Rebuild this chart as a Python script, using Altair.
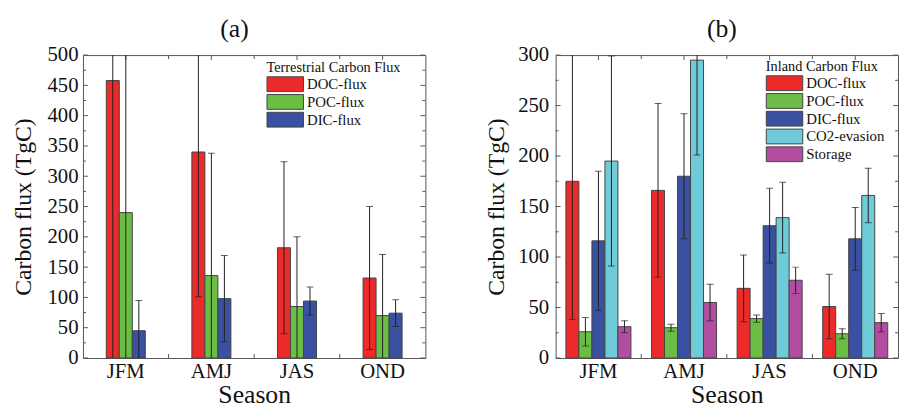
import altair as alt
import pandas as pd

seasons = ["JFM", "AMJ", "JAS", "OND"]

# Panel (a): Terrestrial Carbon Flux
terr_series = ["DOC-flux", "POC-flux", "DIC-flux"]
terr_doc = [458, 340, 182, 132]
terr_doc_err = [480, 239, 142, 118]
terr_poc = [240, 136, 85, 70]
terr_poc_err = [300, 202, 115, 101]
terr_dic = [45, 98, 94, 74]
terr_dic_err = [50, 71, 23, 22]
terr_colors = ["#EC2A2A", "#6CBD45", "#3A50A0"]

# Panel (b): Inland Carbon Flux
inl_series = ["DOC-flux", "POC-flux", "DIC-flux", "CO2-evasion", "Storage"]
inl_doc = [175, 166, 69, 51]
inl_doc_err = [137, 86, 33, 32]
inl_poc = [26, 30, 39, 24]
inl_poc_err = [14, 3.5, 3.5, 5]
inl_dic = [116, 180, 131, 118]
inl_dic_err = [69, 62, 37, 31]
inl_co2 = [195, 295, 139, 161]
inl_co2_err = [104, 94, 35, 27]
inl_sto = [31, 55, 77, 35]
inl_sto_err = [6, 18, 13, 9]
inl_colors = ["#EC2A2A", "#6CBD45", "#3A50A0", "#6FCBD7", "#B24E9F"]

ticks_a_major = list(range(0, 501, 50))
ticks_a_minor = list(range(25, 500, 50))
ticks_b_major = list(range(0, 301, 50))
ticks_b_minor = list(range(25, 300, 50))
season_bounds = ["AMJ", "JAS", "OND"]

FONT = "Times New Roman, Liberation Serif, serif"
FRAME = "#555555"
W, H = 347, 307


def long_df(series, values, errs):
    rows = []
    for s, vals, es in zip(series, values, errs):
        for season, v, e in zip(seasons, vals, es):
            rows.append({"season": season, "series": s, "value": v,
                         "low": v - e, "high": v + e})
    return pd.DataFrame(rows)


def panel(df, series, slot_domain, colors, ymax, major, minor, title, title_dx,
          legend_title, legend_x, legend_y, title_padding, label_padding, row_pad):
    xscale = alt.Scale(domain=seasons, paddingInner=0, paddingOuter=0)
    yscale = alt.Scale(domain=[0, ymax], nice=False, zero=True)
    oscale = alt.Scale(domain=slot_domain, paddingInner=0, paddingOuter=0.79)

    x_axis = alt.Axis(title="Season", labelAngle=0, ticks=False, tickSize=0,
                      domain=False, labelPadding=3, titlePadding=0,
                      labelFontSize=21, titleFontSize=26,
                      labelFont=FONT, titleFont=FONT)
    y_axis = alt.Axis(title="Carbon flux (TgC)", values=major, ticks=False,
                      tickSize=0, domain=False, grid=False,
                      labelPadding=label_padding, titlePadding=title_padding,
                      labelFontSize=21, titleFontSize=24,
                      labelFont=FONT, titleFont=FONT,
                      labelFlush=False, labelOverlap=False)

    base = alt.Chart(df)
    xo = alt.XOffset("series:N", scale=oscale)
    xs = alt.X("season:N", scale=xscale, sort=seasons, axis=x_axis)
    bars = base.mark_bar(stroke="#444444", strokeWidth=1).encode(
        x=xs,
        xOffset=xo,
        y=alt.Y("value:Q", scale=yscale, axis=y_axis),
        color=alt.Color("series:N", sort=series,
                        scale=alt.Scale(domain=series, range=colors),
                        legend=alt.Legend(
                            title=legend_title, orient="none",
                            legendX=legend_x, legendY=legend_y,
                            titleFont=FONT, titleFontSize=14.5, titleFontWeight="normal",
                            titleColor="#111111", titlePadding=1,
                            labelFont=FONT, labelFontSize=15, labelColor="#111111",
                            symbolType="M-1,-1L3.93,-1L3.93,1L-1,1Z", symbolSize=225,
                            symbolStrokeColor="#444444", symbolStrokeWidth=1,
                            labelOffset=25, rowPadding=row_pad, padding=0)),
    )
    err_line = base.mark_rule(color="#222222", strokeWidth=1, clip=True).encode(
        x=xs, xOffset=xo,
        y=alt.Y("low:Q", scale=yscale, axis=y_axis), y2="high:Q")
    cap_hi = base.mark_tick(color="#222222", thickness=1, size=7, clip=True).encode(
        x=xs, xOffset=xo, y=alt.Y("high:Q", scale=yscale, axis=y_axis))
    cap_lo = base.mark_tick(color="#222222", thickness=1, size=7, clip=True).encode(
        x=xs, xOffset=xo, y=alt.Y("low:Q", scale=yscale, axis=y_axis))

    maj = pd.DataFrame({"value": major})
    mnr = pd.DataFrame({"value": minor})
    yv = alt.Y("value:Q", scale=yscale, axis=y_axis)
    tick_layers = [
        alt.Chart(maj).mark_rule(color=FRAME).encode(y=yv, x=alt.value(0), x2=alt.value(5)),
        alt.Chart(mnr).mark_rule(color=FRAME).encode(y=yv, x=alt.value(0), x2=alt.value(3)),
        alt.Chart(maj).mark_rule(color=FRAME).encode(y=yv, x=alt.value(W - 5), x2=alt.value(W)),
        alt.Chart(mnr).mark_rule(color=FRAME).encode(y=yv, x=alt.value(W - 3), x2=alt.value(W)),
    ]
    sc = pd.DataFrame({"season": seasons})
    sb = pd.DataFrame({"season": season_bounds})
    xb = alt.X("season:N", scale=xscale, sort=seasons, axis=x_axis, bandPosition=0)
    tick_layers += [
        alt.Chart(sc).mark_rule(color=FRAME).encode(x=xs, y=alt.value(0), y2=alt.value(5)),
        alt.Chart(sb).mark_rule(color=FRAME).encode(x=xb, y=alt.value(0), y2=alt.value(4)),
        alt.Chart(sc).mark_rule(color=FRAME).encode(x=xs, y=alt.value(H - 5), y2=alt.value(H)),
        alt.Chart(sb).mark_rule(color=FRAME).encode(x=xb, y=alt.value(H - 4), y2=alt.value(H)),
    ]

    return alt.layer(*tick_layers, bars, err_line, cap_hi, cap_lo).properties(
        width=W, height=H,
        title=alt.TitleParams(text=title, font=FONT, fontSize=26, fontWeight="normal",
                              color="#111111", offset=2, dx=title_dx),
    )


df_a = long_df(terr_series, [terr_doc, terr_poc, terr_dic],
               [terr_doc_err, terr_poc_err, terr_dic_err])
df_b = long_df(inl_series, [inl_doc, inl_poc, inl_dic, inl_co2, inl_sto],
               [inl_doc_err, inl_poc_err, inl_dic_err, inl_co2_err, inl_sto_err])

# panel (a) places its three bars in the middle three of five equal slots
slots_a = ["_pad_left"] + terr_series + ["_pad_right"]

pa = panel(df_a, terr_series, slots_a, terr_colors, 500, ticks_a_major, ticks_a_minor,
           "(a)", -20, "Terrestrial Carbon Flux", 186, 6, 11.5, 5, -4)
pb = panel(df_b, inl_series, inl_series, inl_colors, 300, ticks_b_major, ticks_b_minor,
           "(b)", -5, "Inland Carbon Flux", 213, 5, 9.5, 7, -5)

chart = alt.hconcat(pa, pb, spacing=58).resolve_scale(
    color="independent", xOffset="independent"
).properties(
    padding={"left": 3, "top": 5, "right": 0, "bottom": 0}
).configure_view(
    stroke=FRAME, strokeWidth=1
).configure_axis(
    labelFont=FONT, titleFont=FONT, labelColor="#111111", titleColor="#111111",
    titleFontWeight="normal"
).configure_legend(
    labelFont=FONT, titleFont=FONT
).configure_title(
    font=FONT
)

chart.save("out.html", embed_options={"renderer": "svg", "actions": False})
